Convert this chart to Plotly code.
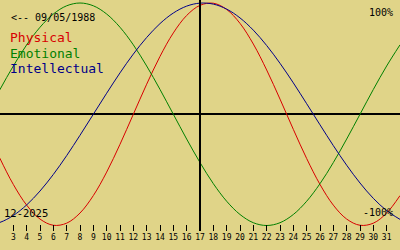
import plotly.graph_objects as go

# ---- data ----
days = list(range(1, 33))
physical = [-0.136, -0.398, -0.631, -0.817, -0.942, -0.998, -0.979, -0.888, -0.731, -0.520,
            -0.270, 0.000, 0.270, 0.520, 0.731, 0.888, 0.979, 0.998, 0.942, 0.817,
            0.631, 0.398, 0.136, -0.136, -0.398, -0.631, -0.817, -0.942, -0.998, -0.979,
            -0.888, -0.731]
emotional = [0.000, 0.223, 0.434, 0.624, 0.782, 0.901, 0.975, 1.000, 0.975, 0.901,
             0.782, 0.624, 0.434, 0.223, 0.000, -0.223, -0.434, -0.624, -0.782, -0.901,
             -0.975, -1.000, -0.975, -0.901, -0.782, -0.624, -0.434, -0.223, 0.000, 0.223,
             0.434, 0.624]
intellectual = [-0.999, -0.972, -0.910, -0.815, -0.690, -0.541, -0.372, -0.189, 0.000, 0.189,
                0.372, 0.541, 0.690, 0.815, 0.910, 0.972, 0.999, 0.990, 0.945, 0.866,
                0.756, 0.618, 0.458, 0.282, 0.095, -0.095, -0.282, -0.458, -0.618, -0.756,
                -0.866, -0.945]
tick_days = list(range(3, 32))
series_names = ["Physical", "Emotional", "Intellectual"]
birth_label = "<-- 09/05/1988"
month_label = "12-2025"
top_label = "100%"
bottom_label = "-100%"
today = 17

# ---- style ----
BG = "#E0D488"
COLORS = ["#D80000", "#008000", "#000088"]
FONT = "DejaVu Sans Mono"
W, H = 400, 250
B = 19
PH = H - B


def py(p):
    return 1 - p / PH


fig = go.Figure()
for name, vals, col in zip(series_names, [physical, emotional, intellectual], COLORS):
    fig.add_trace(go.Scatter(x=days, y=vals, mode="lines", name=name,
                             line=dict(color=col, width=1, shape="spline"),
                             hoverinfo="skip", showlegend=False))

fig.add_shape(type="line", xref="x", yref="paper", x0=today, x1=today, y0=0, y1=1,
              line=dict(color="black", width=2), layer="above")

ann = []
ann.append(dict(text=birth_label, x=10 / W, y=py(17), xanchor="left", yanchor="middle",
                font=dict(family=FONT, size=10, color="black")))
for i, (name, col) in enumerate(zip(series_names, COLORS)):
    ann.append(dict(text=name, x=9 / W, y=py(38 + 15 * i), xanchor="left", yanchor="middle",
                    font=dict(family=FONT, size=13, color=col)))
ann.append(dict(text=top_label, x=394 / W, y=py(12.5), xanchor="right", yanchor="middle",
                font=dict(family=FONT, size=10, color="black")))
ann.append(dict(text=bottom_label, x=394 / W, y=py(212), xanchor="right", yanchor="middle",
                font=dict(family=FONT, size=10, color="black")))
ann.append(dict(text=month_label, x=3 / W, y=py(212.5), xanchor="left", yanchor="middle",
                font=dict(family=FONT, size=10.5, color="black")))
for a in ann:
    a.update(xref="paper", yref="paper", showarrow=False, borderpad=0)

fig.update_layout(
    width=W, height=H,
    margin=dict(l=0, r=0, t=0, b=B, pad=0),
    paper_bgcolor=BG, plot_bgcolor=BG,
    annotations=ann,
    xaxis=dict(range=[2, 32], tickvals=tick_days, ticktext=[str(d) for d in tick_days],
               ticks="inside", ticklen=6, tickwidth=1, tickcolor="black",
               showgrid=False, zeroline=False, showline=False,
               tickfont=dict(family=FONT, size=8, color="black")),
    yaxis=dict(range=[-1.0494, 1.027], showgrid=False, zeroline=True,
               zerolinecolor="black", zerolinewidth=2, showticklabels=False,
               ticks="", showline=False),
)

fig.write_html("out.html")
